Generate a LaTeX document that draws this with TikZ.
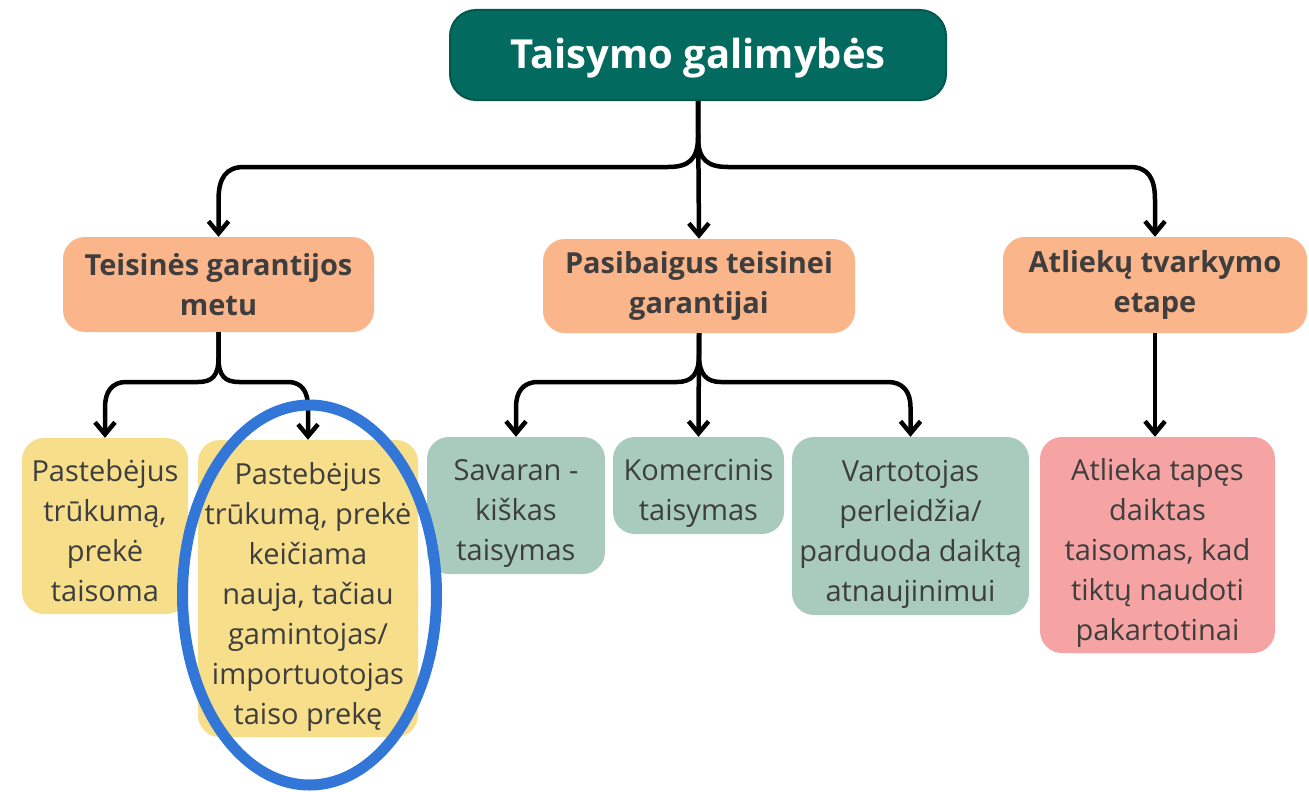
\documentclass[tikz,border=0pt]{standalone}
\usepackage{fontspec}
\setmainfont{Open Sans}
\usetikzlibrary{arrows.meta}
\definecolor{teal1}{HTML}{036A60}
\definecolor{teal2}{HTML}{02574F}
\definecolor{orng}{HTML}{FBB58A}
\definecolor{yel}{HTML}{F7DE8B}
\definecolor{grn}{HTML}{A8CBBD}
\definecolor{pnk}{HTML}{F5A3A3}
\definecolor{txt}{HTML}{3E3E3E}
\definecolor{blu}{HTML}{3276D8}
\tikzset{
  box/.style={rounded corners=22pt, inner sep=0pt, align=center, text=txt},
  lvltwo/.style={box, fill=orng, font=\fontsize{29}{40}\selectfont\bfseries},
  lvlthree/.style={box},
  lthree/.style={inner sep=0pt, align=center, text=txt, font=\fontsize{29}{40}\selectfont, yshift=-8pt},
  conn/.style={line width=4.5pt, -{Straight Barb[length=12pt,width=20pt]}},
}
\begin{document}
\begin{tikzpicture}[x=1pt,y=-1pt]
\useasboundingbox[fill=white] (0,0) rectangle (1309,792);
% top
\node[box, fill=teal1, draw=teal2, line width=2pt, minimum width=496pt, minimum height=90pt, rounded corners=26pt,
  label={[inner sep=0pt, text=white, font=\fontsize{40}{50}\selectfont\bfseries, yshift=-3pt]center:Taisymo galimybės}] (top) at (698,55) {};
% level 2
\node[lvltwo, minimum width=311pt, minimum height=95pt] (t2a) at (218.5,284.5) {Teisinės garantijos\\metu};
\node[lvltwo, minimum width=312pt, minimum height=94pt] (t2b) at (699,286) {Pasibaigus teisinei\\garantijai};
\node[lvltwo, minimum width=304pt, minimum height=96pt] (t2c) at (1155,285) {Atliekų tvarkymo\\etape};
% level 3
\node[lvlthree, fill=yel, minimum width=166pt, minimum height=176pt, label={[lthree,yshift=3pt]center:{Pastebėjus\\trūkumą,\\prekė\\taisoma}}] (y1) at (105,526) {};
\node[lvlthree, fill=yel, minimum width=220pt, minimum height=297pt, label={[lthree]center:{Pastebėjus\\trūkumą, prekė\\keičiama\\nauja, tačiau\\gamintojas/\\importuotojas\\taiso prekę}}] (y2) at (308,588.5) {};
\node[lvlthree, fill=grn, minimum width=178pt, minimum height=137pt, label={[lthree]center:{Savaran -\\kiškas\\taisymas}}] (g1) at (516,505.5) {};
\node[lvlthree, fill=grn, minimum width=171pt, minimum height=97pt, label={[lthree]center:{Komercinis\\taisymas}}] (g2) at (698.5,485.5) {};
\node[lvlthree, fill=grn, minimum width=237pt, minimum height=178pt, label={[lthree]center:{Vartotojas\\perleidžia/\\parduoda daiktą\\atnaujinimui}}] (g3) at (910.5,526) {};
\node[lvlthree, fill=pnk, minimum width=235pt, minimum height=216pt, label={[lthree]center:{Atlieka tapęs\\daiktas\\taisomas, kad\\tiktų naudoti\\pakartotinai}}] (p1) at (1157.5,545) {};
% top fork
\draw[conn] (top.south) -- (698,137) .. controls (698,160) and (688,167) .. (668,167) -- (244,167) .. controls (226,167) and (218.5,178) .. (218.5,200) -- (t2a.north);
\draw[conn] (top.south) -- (698,137) .. controls (698,160) and (708,167) .. (728,167) -- (1130,167) .. controls (1148,167) and (1155,178) .. (1155,200) -- (t2c.north);
\draw[conn] (top.south) -- (t2b.north);
% level 2 -> 3 left
\draw[conn] (t2a.south) -- (218.5,358) .. controls (218.5,376) and (212,382) .. (198,382) -- (126,382) .. controls (112,382) and (105,392) .. (105,407) -- (y1.north);
\draw[conn] (t2a.south) -- (218.5,358) .. controls (218.5,376) and (225,382) .. (239,382) -- (288,382) .. controls (302,382) and (308,392) .. (308,407) -- (y2.north);
% level 2 -> 3 middle
\draw[conn] (t2b.south) -- (699,355) .. controls (699,374) and (692,382) .. (677,382) -- (538,382) .. controls (523,382) and (516,392) .. (516,407) -- (g1.north);
\draw[conn] (t2b.south) -- (699,355) .. controls (699,374) and (706,382) .. (721,382) -- (888,382) .. controls (903,382) and (910.5,392) .. (910.5,407) -- (g3.north);
\draw[conn] (t2b.south) -- (g2.north);
% right
\draw[conn] (t2c.south) -- (t2c.south |- p1.north);
% highlight ellipse
\draw[blu, line width=11pt] (y2.center) ++(1.5,6.5) ellipse [x radius=127pt, y radius=190pt];
\end{tikzpicture}
\end{document}
